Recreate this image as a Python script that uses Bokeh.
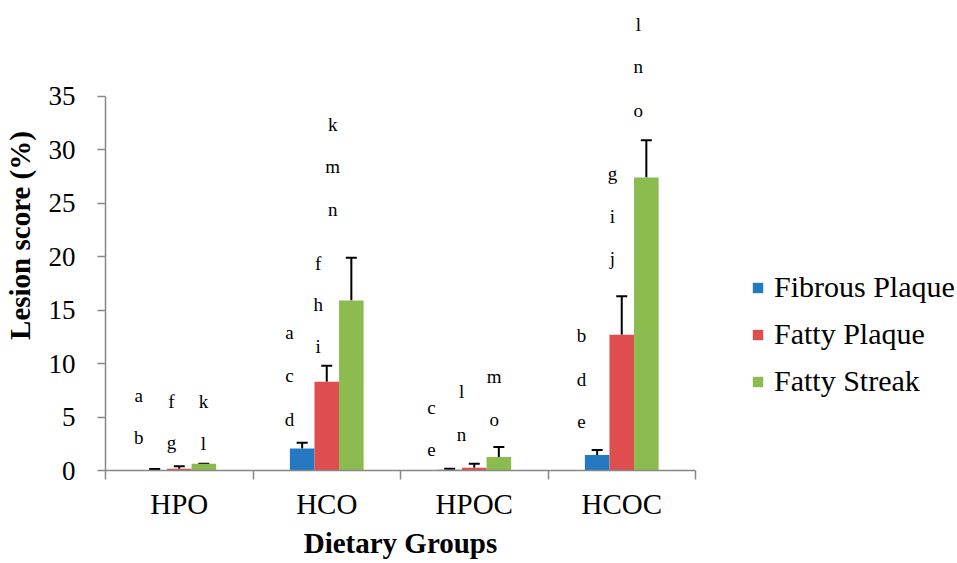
from bokeh.plotting import figure
from bokeh.models import (Range1d, ColumnDataSource, FixedTicker, Legend, LegendItem,
                          Whisker, TeeHead)
from bokeh.core.properties import value
from bokeh.embed import file_html
from bokeh.resources import INLINE

# ---------------- data ----------------
groups = ["HPO", "HCO", "HPOC", "HCOC"]
series = ["Fibrous Plaque", "Fatty Plaque", "Fatty Streak"]
fibrous_plaque = [0.05, 2.05, 0.08, 1.45]
fibrous_plaque_err = [0.09, 0.55, 0.09, 0.47]
fatty_plaque = [0.17, 8.3, 0.26, 12.7]
fatty_plaque_err = [0.23, 1.5, 0.38, 3.6]
fatty_streak = [0.63, 15.9, 1.26, 27.4]
fatty_streak_err = [0.0, 4.0, 0.94, 3.5]
colors = ["#2479C2", "#DE4E4E", "#8CBC50"]

y_ticks = [0, 5, 10, 15, 20, 25, 30, 35]

# significance letters: (group index, x within group, letters, y centres)
letter_group = [0, 0, 0, 1, 1, 1, 2, 2, 2, 3, 3, 3]
letter_x = [0.226, 0.447, 0.664, 0.247, 0.442, 0.54, 0.21, 0.414, 0.635, 0.227, 0.437, 0.612]
letter_text = [["a", "b"], ["f", "g"], ["k", "l"],
               ["a", "c", "d"], ["f", "h", "i"], ["k", "m", "n"],
               ["c", "e"], ["l", "n"], ["m", "o"],
               ["b", "d", "e"], ["g", "i", "j"], ["l", "n", "o"]]
letter_y = [[7.0, 3.1], [6.5, 2.6], [6.5, 2.5],
            [12.9, 8.9, 4.8], [19.4, 15.5, 11.6], [32.4, 28.4, 24.4],
            [5.9, 2.0], [7.4, 3.4], [8.8, 4.8],
            [12.6, 8.5, 4.6], [27.8, 23.8, 19.8], [41.7, 37.8, 33.7]]

FONT = "Liberation Serif"
AXIS_COLOR = "#878787"

# ---------------- figure ----------------
px_per_cat = 147.5
px_per_unit = 10.69
frame_w, frame_h = int(round(px_per_cat * len(groups))), 470

p = figure(frame_width=frame_w, frame_height=frame_h, output_backend="svg", toolbar_location=None,
           x_range=Range1d(0, len(groups)), y_range=Range1d(0, frame_h / px_per_unit),
           min_border_left=104, min_border_right=957 - 104 - frame_w,
           min_border_top=0, min_border_bottom=0)
p.outline_line_color = None
p.grid.visible = False
p.background_fill_color = "white"
p.border_fill_color = "white"

all_vals = [fibrous_plaque, fatty_plaque, fatty_streak]
all_errs = [fibrous_plaque_err, fatty_plaque_err, fatty_streak_err]
offsets = [-1 / 6, 0, 1 / 6]
items = []
for s, (vals, errs, col, off) in enumerate(zip(all_vals, all_errs, colors, offsets)):
    xs = [i + 0.5 + off for i in range(len(groups))]
    src = ColumnDataSource(dict(x=xs, top=vals, upper=[v + e for v, e in zip(vals, errs)]))
    r = p.vbar(x="x", top="top", width=1 / 6, source=src, fill_color=col, line_color=None)
    items.append(LegendItem(label=series[s], renderers=[r]))
    w = Whisker(source=src, base="x", lower="top", upper="upper", dimension="height",
                line_color="black", line_width=2, lower_head=None,
                upper_head=TeeHead(size=11, line_color="black", line_width=2))
    p.add_layout(w)

# letters
lx, ly, lt = [], [], []
for g, xo, txts, ys in zip(letter_group, letter_x, letter_text, letter_y):
    for t, y in zip(txts, ys):
        lx.append(g + xo)
        ly.append(y)
        lt.append(t)
p.text(x=lx, y=ly, text=lt, text_font=value(FONT), text_font_size="19px",
       text_align="center", text_baseline="middle", text_color="black")

# y axis
ya = p.yaxis[0]
ya.ticker = FixedTicker(ticks=y_ticks)
ya.bounds = (0, 35)
ya.axis_line_color = AXIS_COLOR
ya.axis_line_width = 1.5
ya.major_tick_line_color = AXIS_COLOR
ya.major_tick_line_width = 1.5
ya.major_tick_out = 8
ya.major_tick_in = 0
ya.minor_tick_line_color = None
ya.major_label_text_font = FONT
ya.major_label_text_font_size = "27px"
ya.major_label_text_color = "black"
ya.major_label_standoff = 22
ya.axis_label = "Lesion score (%)"
ya.axis_label_text_font = FONT
ya.axis_label_text_font_size = "29px"
ya.axis_label_text_font_style = "bold"
ya.axis_label_text_color = "black"
ya.axis_label_standoff = 10

# x axis
xa = p.xaxis[0]
xa.ticker = FixedTicker(ticks=[i + 0.5 for i in range(len(groups))],
                        minor_ticks=list(range(len(groups) + 1)))
xa.major_label_overrides = {i + 0.5: g for i, g in enumerate(groups)}
xa.axis_line_color = AXIS_COLOR
xa.axis_line_width = 1.5
xa.major_tick_line_color = None
xa.minor_tick_line_color = AXIS_COLOR
xa.minor_tick_line_width = 1.5
xa.minor_tick_out = 9
xa.minor_tick_in = 0
xa.major_label_text_font = FONT
xa.major_label_text_font_size = "29px"
xa.major_label_text_color = "black"
xa.major_label_standoff = 8
xa.major_label_text_line_height = 1.0
xa.axis_label = "Dietary Groups"
xa.axis_label_text_font = FONT
xa.axis_label_text_font_size = "29px"
xa.axis_label_text_font_style = "bold"
xa.axis_label_text_color = "black"
xa.axis_label_text_line_height = 1.0
xa.axis_label_standoff = 4

legend = Legend(items=items, location=(56, 72), padding=0, margin=0, spacing=13,
                glyph_width=13, glyph_height=13, label_standoff=10,
                label_text_font=FONT, label_text_font_size="30px", label_text_color="black",
                border_line_color=None, background_fill_alpha=0)
p.add_layout(legend, "right")

open("out.html", "w").write(file_html(p, INLINE))
